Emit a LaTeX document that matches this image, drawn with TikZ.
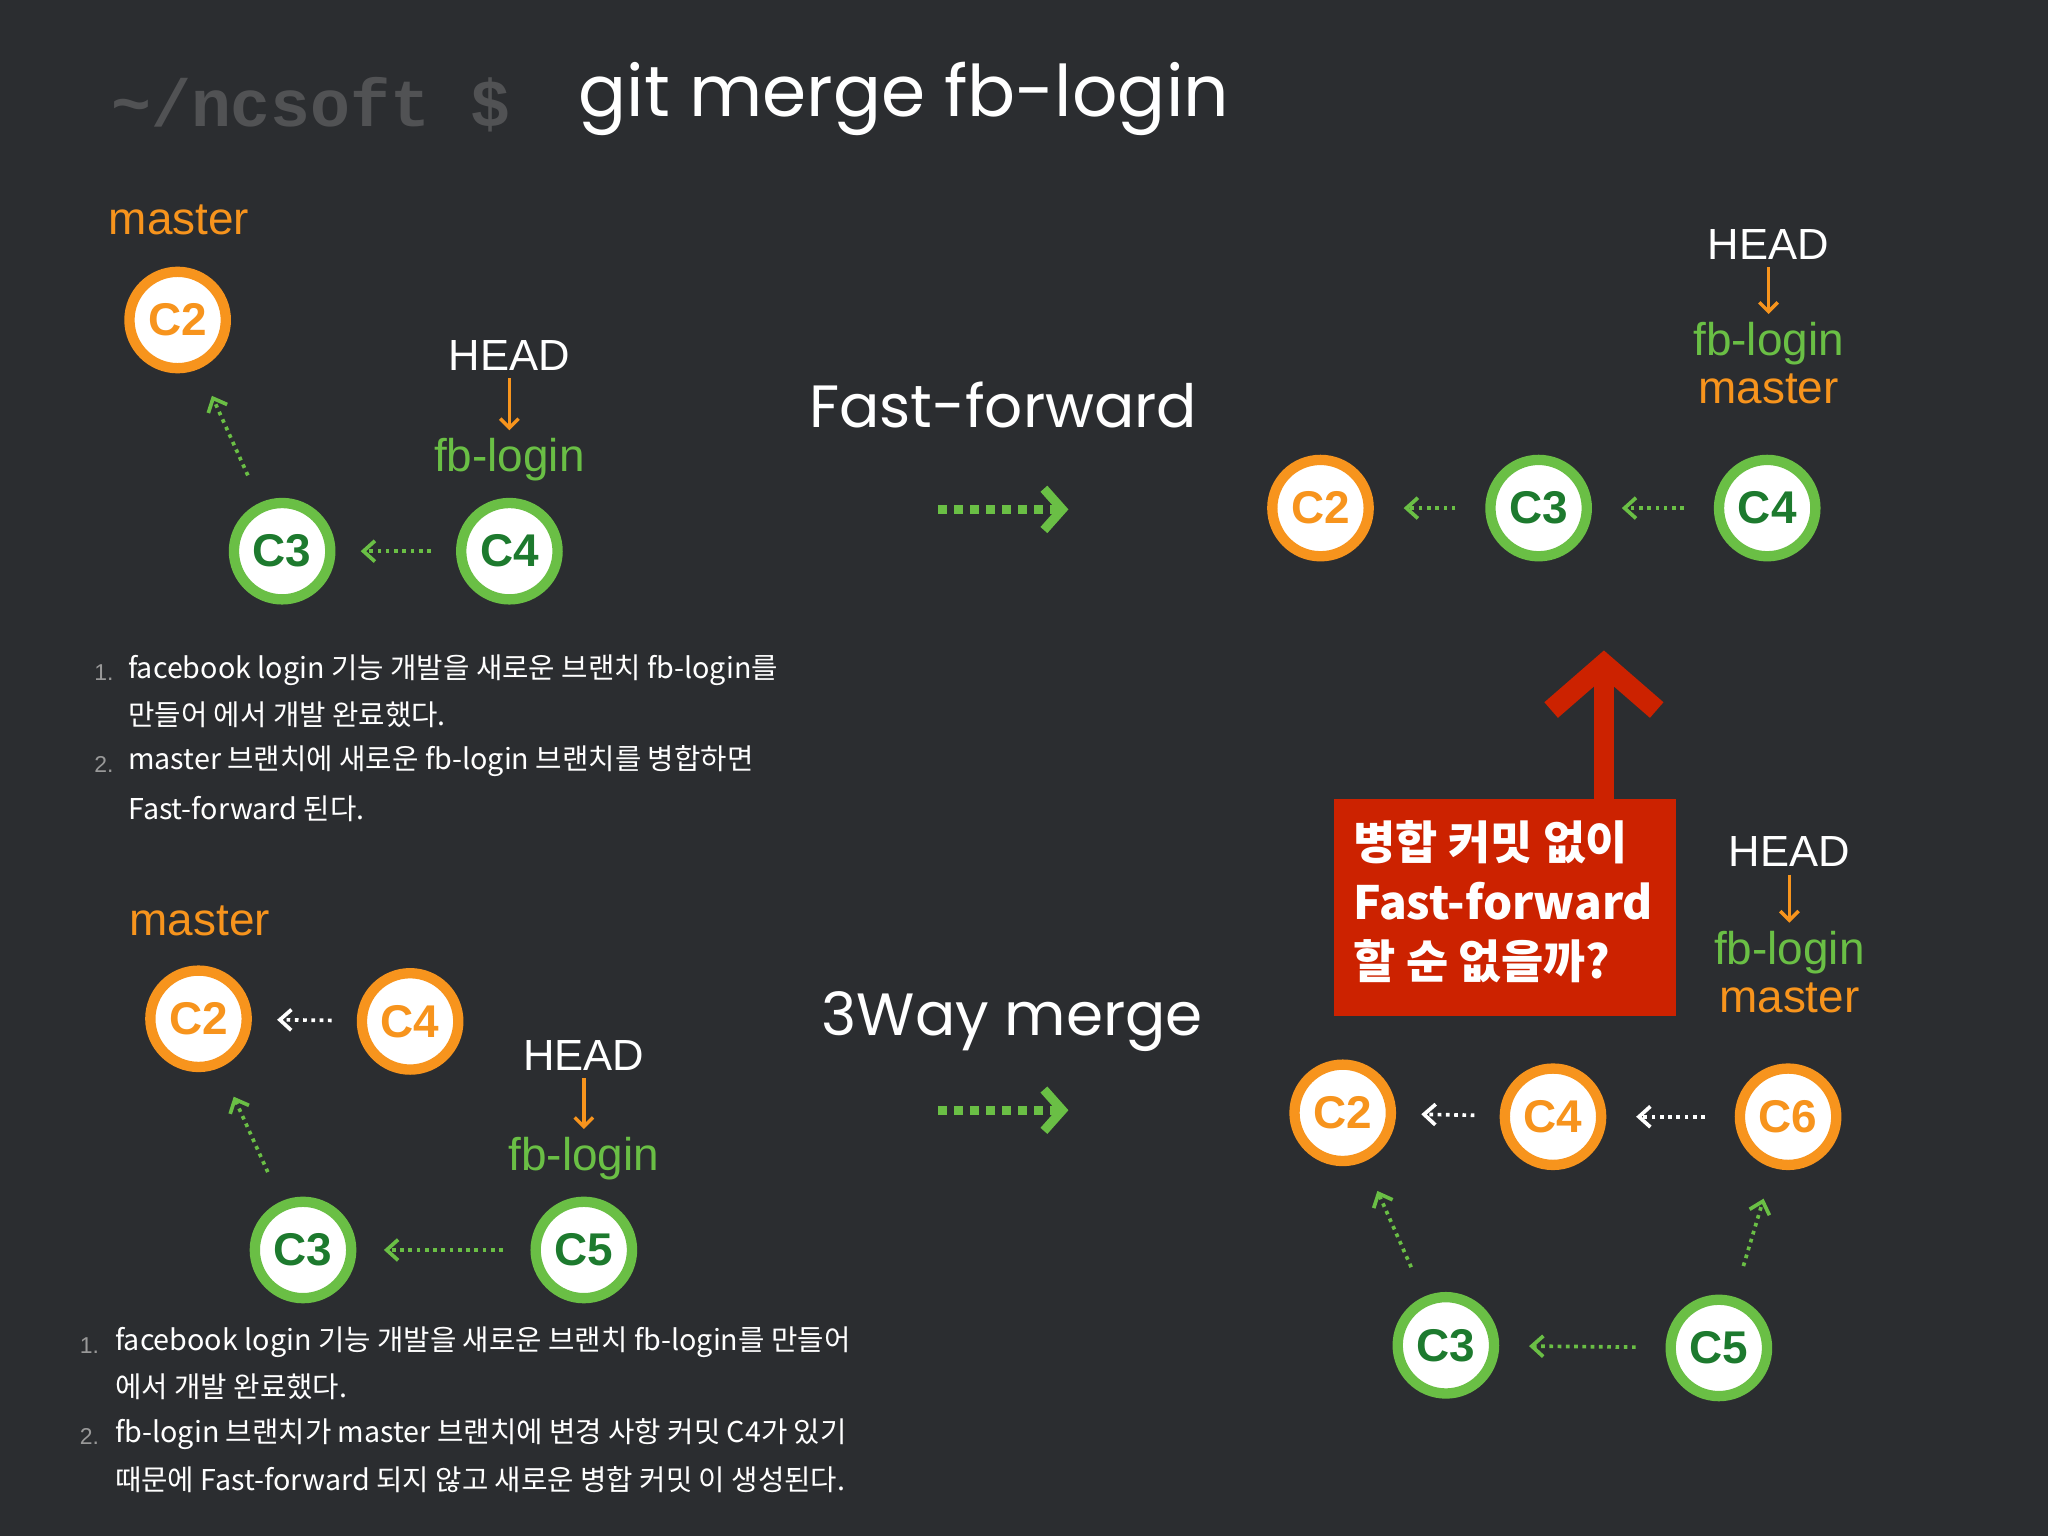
\documentclass[tikz,border=0pt]{standalone}
\usepackage{fontspec}
\setmainfont{Liberation Sans}
\newfontfamily\kr{Noto Sans CJK KR}
\newfontfamily\pop{Poppins}
\newfontfamily\mono{Liberation Mono}
\usetikzlibrary{arrows.meta}
\definecolor{bg}{HTML}{2B2D30}
\definecolor{org}{HTML}{F7941D}
\definecolor{grn}{HTML}{6ABF45}
\definecolor{dgrn}{HTML}{1D7A2E}
\definecolor{redb}{HTML}{CC2200}
\tikzset{
 oc/.style={circle,draw=org,fill=white,line width=4.5pt,minimum size=42pt,inner sep=0pt,text=org,font=\bfseries\fontsize{20}{20}\selectfont},
 gc/.style={circle,draw=grn,fill=white,line width=4.5pt,minimum size=42pt,inner sep=0pt,text=dgrn,font=\bfseries\fontsize{20}{20}\selectfont},
 darr/.style={dotted,line width=1.6pt,-{Straight Barb[length=5pt,width=9pt,line width=1.6pt]},shorten <=#1,shorten >=#1},
 darr/.default=11pt,
 bigarr/.style={grn,line width=4pt,dash pattern=on 4pt off 3pt,-{Straight Barb[length=8pt,width=18pt,line width=4pt]}},
 hd/.style={text=white,font=\fontsize{19}{19}\selectfont},
 gl/.style={text=grn,font=\fontsize{20}{20}\selectfont},
 ol/.style={text=org,font=\fontsize{20}{20}\selectfont},
 li/.style={anchor=west,text=white,font=\kr\fontsize{12.5}{12.5}\selectfont},
 num/.style={anchor=west,text=gray!80,font=\fontsize{10}{10}\selectfont},
 big/.style={text=white,font=\pop\fontsize{26}{26}\selectfont},
 hdarr/.style={org,line width=1.5pt,-{Straight Barb[length=4pt,width=8pt]}},
}
\begin{document}
\begin{tikzpicture}[x=0.02cm,y=-0.02cm]
\fill[bg] (0,0) rectangle (1568,1176);
\useasboundingbox (0,0) rectangle (1568,1176);
% title
\node[text=gray!45!bg,font=\mono\bfseries\fontsize{29}{29}\selectfont] (t1) at (238,80) {\~{}/ncsoft\ \$};
\node[text=white,font=\pop\fontsize{31}{31}\selectfont] (t2) at (692,76) {git merge fb-login};
% top left
\node[ol] (m1) at (137,168) {master};
\node[oc] (a2) at (136,245) {C2};
\node[gc] (a3) at (216,422) {C3};
\node[gc] (a4) at (390,422) {C4};
\node[hd] (h1) at (390,272) {HEAD};
\node[gl] (f1) at (390,352) {fb-login};
\draw[hdarr] (h1.south) -- (f1.north);
\draw[darr,grn] (a4) -- (a3);
\draw[darr=13pt,grn] (a3) -- (a2);
\node[num] (n1) at (66,515) {1.};
\node[li] (l1) at (92,513) {facebook login 기능 개발을 새로운 브랜치 fb-login를};
\node[li] (l2) at (92,547) {만들어 에서 개발 완료했다.};
\node[num] (n2) at (66,585) {2.};
\node[li] (l3) at (92,583) {master 브랜치에 새로운 fb-login 브랜치를 병합하면};
\node[li] (l4) at (92,619) {Fast-forward 된다.};
% fast forward
\node[big] (ff) at (768,310) {Fast-forward};
\draw[bigarr] (718,390) -- (818,390);
\node[oc] (b2) at (1011,389) {C2};
\node[gc] (b3) at (1178,389) {C3};
\node[gc] (b4) at (1353,389) {C4};
\draw[darr=13pt,grn] (b3) -- (b2);
\draw[darr=13pt,grn] (b4) -- (b3);
\node[hd] (h2) at (1354,187) {HEAD};
\node[gl] (f2) at (1354,263) {fb-login};
\node[ol] (m2) at (1354,298) {master};
\draw[hdarr] (h2.south) -- (f2.north);
% red
\coordinate (rt) at (1228,498);
\draw[redb,line width=9pt,-{Straight Barb[length=20pt,width=46pt,line width=9pt]}] (1228,612) -- (rt);
\fill[redb] (1021,612) rectangle (1283,778);
\node[anchor=north west,text=white,align=left,font=\kr\bfseries\fontsize{20}{26}\selectfont] (rtx) at (1030,622) {병합 커밋 없이\\Fast-forward\\할 순 없을까?};
% bottom left
\node[ol] (m3) at (153,705) {master};
\node[oc] (c2) at (152,780) {C2};
\node[oc] (c4) at (314,782) {C4};
\node[gc] (c3) at (232,957) {C3};
\node[gc] (c5) at (447,957) {C5};
\node[hd] (h3) at (447,808) {HEAD};
\node[gl] (f3) at (447,887) {fb-login};
\draw[hdarr] (h3.south) -- (f3.north);
\draw[darr,white] (c4) -- (c2);
\draw[darr=12pt,grn] (c5) -- (c3);
\draw[darr=14pt,grn] (c3) -- (c2);
\node[num] (n3) at (55,1030) {1.};
\node[li] (k1) at (82,1028) {facebook login 기능 개발을 새로운 브랜치 fb-login를 만들어};
\node[li] (k2) at (82,1062) {에서 개발 완료했다.};
\node[num] (n4) at (55,1100) {2.};
\node[li] (k3) at (82,1098) {fb-login 브랜치가 master 브랜치에 변경 사항 커밋 C4가 있기};
\node[li] (k4) at (82,1133) {때문에 Fast-forward 되지 않고 새로운 병합 커밋 이 생성된다.};
% 3way
\node[big] (tw) at (775,782) {3Way merge};
\draw[bigarr] (718,850) -- (818,850);
\node[oc] (d2) at (1028,852) {C2};
\node[oc] (d4) at (1189,855) {C4};
\node[oc] (d6) at (1369,855) {C6};
\node[gc] (d3) at (1107,1030) {C3};
\node[gc] (d5) at (1316,1032) {C5};
\draw[darr,white] (d4) -- (d2);
\draw[darr=13pt,white] (d6) -- (d4);
\draw[darr=14pt,grn] (d3) -- (d2);
\draw[darr=14pt,grn] (d5) -- (d6);
\draw[darr=13pt,grn] (d5) -- (d3);
\node[hd] (h4) at (1370,652) {HEAD};
\node[gl] (f4) at (1370,729) {fb-login};
\node[ol] (m4) at (1370,764) {master};
\draw[hdarr] (h4.south) -- (f4.north);
\end{tikzpicture}
\end{document}
